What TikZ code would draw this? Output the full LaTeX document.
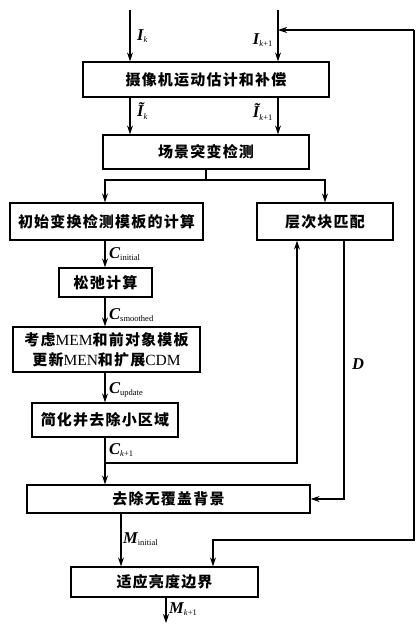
\documentclass[tikz,border=0pt]{standalone}
\usepackage{fontspec}
\setmainfont{Liberation Serif}
\newfontfamily\cjk[LetterSpace=8]{Noto Sans CJK SC}
\usetikzlibrary{arrows.meta}
\newcommand\lat[1]{{\rmfamily\mdseries\fontsize{15.5}{20}\selectfont #1}}
\newcommand\vlab[2]{{\bfseries\itshape #1}\textsubscript{\normalfont\fontsize{8.5}{8.5}\selectfont #2}}
\begin{document}
\begin{tikzpicture}[x=1pt,y=-1pt,
  box/.style={draw,line width=1.3pt,rectangle,inner sep=0pt,align=center,
    font=\fontsize{15}{20}\selectfont\cjk\bfseries},
  conn/.style={line width=1.1pt},
  arr/.style={conn,-{Stealth[length=9pt,width=6pt]}},
  lab/.style={font=\fontsize{16.5}{16.5}\selectfont, inner sep=1pt}
]
\useasboundingbox (0,0) rectangle (416,627);

% boxes
\node[box,minimum width=246pt,minimum height=35pt] (b1) at (206,79.5) {摄像机运动估计和补偿};
\node[box,minimum width=206pt,minimum height=34pt] (b2) at (206,152) {场景突变检测};
\node[box,minimum width=193pt,minimum height=37pt] (b3) at (106.5,221.5) {初始变换检测模板的计算};
\node[box,minimum width=136pt,minimum height=37pt] (b4) at (325,221.5) {层次块匹配};
\node[box,minimum width=93pt,minimum height=29pt] (b5) at (105.5,282.5) {松弛计算};
\node[box,minimum width=187pt,minimum height=45pt] (b6) at (106.5,349.5) {考虑\lat{MEM}和前对象模板\\更新\lat{MEN}和扩展\lat{CDM}};
\node[box,minimum width=146pt,minimum height=34pt] (b7) at (105,420) {简化并去除小区域};
\node[box,minimum width=283pt,minimum height=28pt] (b8) at (168.5,499) {去除无覆盖背景};
\node[box,minimum width=187pt,minimum height=30pt] (b9) at (164.5,582) {适应亮度边界};

% inputs
\coordinate (inA) at (130,10);
\coordinate (inB) at (278,10);
\draw[arr] (inA) -- (inA |- b1.north);
\draw[arr] (inB) -- (inB |- b1.north);
\node[lab,anchor=west] (lIk) at (136,36) {\vlab{I}{\textit{k}}};
\node[lab,anchor=east] (lIk1) at (274,40) {\vlab{I}{\textit{k}+1}};

% b1 -> b2
\draw[arr] (inA |- b1.south) -- (inA |- b2.north);
\draw[arr] (inB |- b1.south) -- (inB |- b2.north);
\node[lab,anchor=west] (lTk) at (136,111) {\vlab{Ĩ}{\textit{k}}};
\node[lab,anchor=east] (lTk1) at (274,112) {\vlab{Ĩ}{\textit{k}+1}};

% branch
\coordinate (br) at (206,180);
\coordinate (brL) at (105,180);
\coordinate (brR) at (325,180);
\draw[conn] (b2.south) -- (br);
\draw[arr] (br) -- (brL) -- (brL |- b3.north);
\draw[arr] (br) -- (brR) -- (brR |- b4.north);

% left chain
\coordinate (cx) at (105,0);
\draw[arr] (cx |- b3.south) -- (cx |- b5.north);
\node[lab,anchor=west] (lCi) at (108,254) {\vlab{C}{initial}};
\draw[arr] (cx |- b5.south) -- (cx |- b6.north);
\node[lab,anchor=west] (lCs) at (108,315) {\vlab{C}{smoothed}};
\draw[arr] (cx |- b6.south) -- (cx |- b7.north);
\node[lab,anchor=west] (lCu) at (108,390) {\vlab{C}{update}};
\coordinate (jn) at (105,463);
\coordinate (jnR) at (297,463);
\draw[conn] (cx |- b7.south) -- (jn);
\draw[arr] (jn) -- (cx |- b8.north);
\draw[arr] (jn) -- (jnR) -- (jnR |- b4.south);
\node[lab,anchor=west] (lCk) at (108,450) {\vlab{C}{\textit{k}+1}};

% D
\coordinate (dT) at (344,0);
\coordinate (dB) at (344,499);
\draw[arr] (dT |- b4.south) -- (dB) -- (b8.east);
\node[lab] (lD) at (358,364) {\textbf{\textit{D}}};

% b8 -> b9
\coordinate (mx) at (121,0);
\draw[arr] (mx |- b8.south) -- (mx |- b9.north);
\node[lab,anchor=west] (lMi) at (122,539) {\vlab{M}{initial}};

% output
\coordinate (ox) at (166,623);
\draw[arr] (ox |- b9.south) -- (ox);
\node[lab,anchor=west] (lMk) at (168,609) {\vlab{M}{\textit{k}+1}};

% feedback
\coordinate (fTR) at (414,30);
\coordinate (fBR) at (414,540);
\coordinate (fBL) at (213,540);
\draw[arr] (fTR) -- (inB |- fTR);
\draw[arr] (fTR) -- (fBR) -- (fBL) -- (fBL |- b9.north);
\end{tikzpicture}
\end{document}
